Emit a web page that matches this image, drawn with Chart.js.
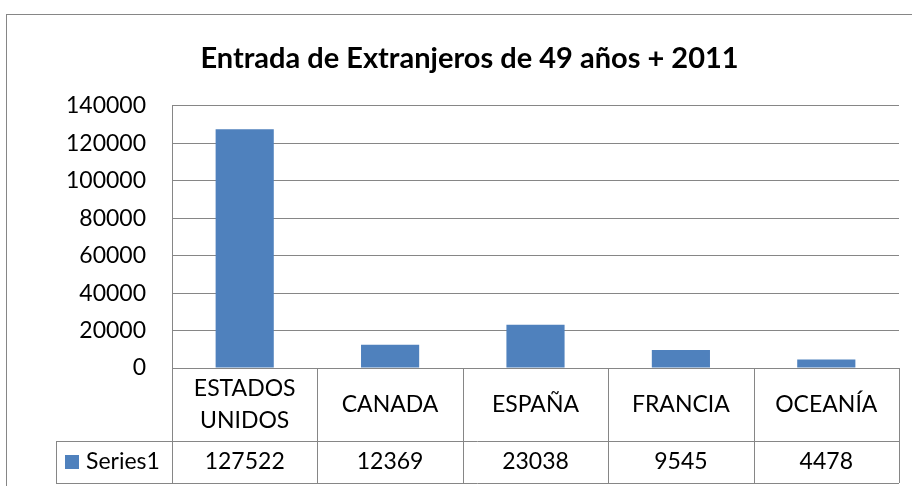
<!DOCTYPE html>
<html>
<head>
<meta charset="utf-8">
<script src="https://cdn.jsdelivr.net/npm/chart.js@4"></script>
<style>
  body { margin: 0; background: #fff; }
  #wrap { width: 912px; height: 486px; position: relative; }
</style>
</head>
<body>
<div id="wrap"><canvas id="entradaChart"></canvas></div>
<script>
var categories = [['ESTADOS', 'UNIDOS'], 'CANADA', 'ESPAÑA', 'FRANCIA', 'OCEANÍA'];
var series1 = [127522, 12369, 23038, 9545, 4478];
var seriesName = 'Series1';
var chartTitle = 'Entrada de Extranjeros de 49 años + 2011';

var lineGray = '#868686';
var barBlue = '#4F81BD';
var fontFam = 'Lato, "Noto Sans", sans-serif';

// marco exterior del grafico (sale por la derecha y abajo, como en la imagen)
var frame = {
    id: 'frame',
    beforeDraw: function(chart) {
        var ctx = chart.ctx;
        ctx.save();
        ctx.strokeStyle = lineGray;
        ctx.lineWidth = 1;
        ctx.strokeRect(6.5, 14.5, 1200, 1200);
        ctx.restore();
    }
};

// tabla de datos debajo del eje, como en Excel
var dataTable = {
    id: 'dataTable',
    afterDraw: function(chart) {
        var ctx = chart.ctx;
        var x = chart.scales.x;
        var area = chart.chartArea;
        var n = chart.data.labels.length;
        var colW = (area.right - area.left) / n;
        var top = area.bottom;
        var mid = top + 73;
        var bot = top + 115;
        var legLeft = 56;

        ctx.save();
        ctx.strokeStyle = lineGray;
        ctx.lineWidth = 1;
        ctx.beginPath();
        ctx.moveTo(legLeft, Math.round(mid) + 0.5);
        ctx.lineTo(area.right, Math.round(mid) + 0.5);
        ctx.moveTo(legLeft, Math.round(bot) + 0.5);
        ctx.lineTo(area.right, Math.round(bot) + 0.5);
        for (var i = 0; i <= n; i++) {
            var cx = Math.round(area.left + i * colW) + 0.5;
            ctx.moveTo(cx, top);
            ctx.lineTo(cx, bot);
        }
        ctx.moveTo(legLeft + 0.5, mid);
        ctx.lineTo(legLeft + 0.5, bot);
        ctx.stroke();

        ctx.fillStyle = '#000';
        ctx.font = '23px ' + fontFam;
        ctx.textAlign = 'center';
        ctx.textBaseline = 'middle';
        chart.data.labels.forEach(function(lab, i) {
            var px = x.getPixelForValue(i);
            var lines = Array.isArray(lab) ? lab : [lab];
            var lh = 32;
            var y0 = (top + mid) / 2 - (lines.length - 1) * lh / 2;
            lines.forEach(function(t, j) {
                ctx.fillText(t, px, y0 + j * lh);
            });
            ctx.fillText(String(chart.data.datasets[0].data[i]), px, (mid + bot) / 2);
        });

        // clave de leyenda
        var ly = (mid + bot) / 2;
        ctx.fillStyle = barBlue;
        ctx.fillRect(65, ly - 7, 14, 14);
        ctx.fillStyle = '#000';
        ctx.textAlign = 'left';
        ctx.fillText(chart.data.datasets[0].label, 86, ly);
        ctx.restore();
    }
};

var ctx = document.getElementById('entradaChart').getContext('2d');
var entradaChart = new Chart(ctx, {
    type: 'bar',
    data: {
        labels: categories,
        datasets: [{
            label: seriesName,
            data: series1,
            backgroundColor: barBlue,
            borderWidth: 0,
            categoryPercentage: 1.0,
            barPercentage: 0.4
        }]
    },
    options: {
        responsive: true,
        maintainAspectRatio: false,
        animation: false,
        layout: {
            padding: { left: 40, right: 13, bottom: 118 }
        },
        plugins: {
            legend: { display: false },
            tooltip: { enabled: false },
            title: {
                display: true,
                text: chartTitle,
                color: '#000',
                font: { size: 29, weight: 'bold', family: fontFam },
                padding: { top: 41, bottom: 30 }
            }
        },
        scales: {
            x: {
                display: false
            },
            y: {
                min: 0,
                max: 140000,
                ticks: {
                    stepSize: 20000,
                    color: '#000',
                    padding: 26,
                    font: { size: 23, family: fontFam },
                    callback: function(v) { return String(v); }
                },
                grid: {
                    color: lineGray,
                    lineWidth: 1,
                    drawTicks: false
                },
                border: { display: true, color: lineGray, width: 1 },
                afterFit: function(scale) { scale.width = 132; }
            }
        }
    },
    plugins: [frame, dataTable]
});
</script>
</body>
</html>
